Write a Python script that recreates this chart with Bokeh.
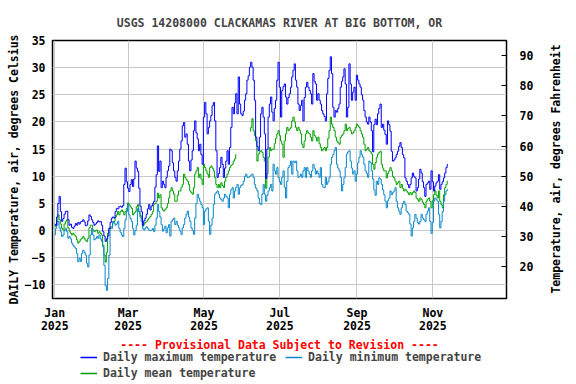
import math
from datetime import date
from bokeh.plotting import figure
from bokeh.layouts import column, row
from bokeh.models import (Range1d, LinearAxis, FixedTicker, Legend, LegendItem, Title)
from bokeh.embed import file_html
from bokeh.resources import INLINE

# ---------------- data ----------------
title_text = "USGS 14208000 CLACKAMAS RIVER AT BIG BOTTOM, OR"
start_date = date(2025, 1, 1)

tmax = [
    1.2, 1.0, 2.5, 5.0, 6.3, 3.5, 1.7, 2.2, 3.0, 3.5,
    3.6, 2.0, 1.0, 1.2, 0.6, 0.4, 0.8, 1.3, 1.0, 1.5,
    1.2, 1.6, 1.7, 2.0, 1.6, 0.9, 1.0, 1.8, 2.9, 2.6,
    2.0, 1.5, 1.0, 1.2, 1.5, 1.8, 1.6, 1.7, 1.0, -0.2,
    -1.0, -2.0, -1.5, -1.0, 0.4, 1.5, 2.3, 2.5, 2.3, 3.5,
    4.1, 4.0, 4.4, 4.5, 4.3, 4.6, 8.5, 11.5, 9.0, 7.8,
    7.2, 8.5, 9.4, 8.1, 9.5, 12.8, 11.5, 10.9, 7.8, 4.5,
    3.5, 1.0, 1.8, 2.3, 3.0, 4.0, 4.8, 3.8, 4.5, 5.0,
    5.4, 8.0, 10.3, 15.6, 10.9, 12.8, 7.9, 9.1, 8.5, 7.9,
    9.8, 11.0, 11.9, 15.0, 14.7, 12.5, 11.0, 9.8, 9.1, 11.0,
    12.8, 15.0, 16.5, 19.3, 19.9, 17.2, 17.8, 15.9, 12.8, 11.0,
    13.0, 14.7, 18.4, 20.2, 18.0, 16.9, 14.7, 15.9, 14.0, 12.2,
    20.9, 23.6, 21.5, 17.8, 19.0, 20.2, 21.2, 23.0, 23.6, 20.2,
    14.7, 9.8, 10.5, 11.6, 13.5, 12.2, 9.8, 11.5, 12.8, 14.7,
    12.2, 15.3, 19.0, 22.7, 21.5, 23.5, 25.2, 21.5, 28.3, 23.3,
    21.5, 21.2, 22.0, 24.0, 25.2, 27.7, 28.5, 30.1, 31.0, 30.1,
    27.7, 24.0, 17.2, 15.5, 14.7, 17.2, 21.5, 22.7, 20.9, 17.8,
    9.6, 15.0, 20.9, 23.3, 24.6, 21.8, 20.2, 22.5, 24.0, 27.7,
    31.0, 26.4, 20.9, 25.8, 26.5, 27.0, 24.6, 23.3, 24.5, 25.2,
    26.4, 28.3, 29.5, 30.7, 27.7, 26.4, 23.3, 22.1, 23.0, 24.0,
    20.2, 24.5, 26.4, 27.3, 26.4, 25.8, 25.2, 23.3, 28.9, 27.5,
    27.0, 24.0, 25.2, 24.0, 23.3, 22.1, 21.5, 21.0, 20.2, 25.2,
    28.0, 29.5, 32.0, 28.9, 22.7, 20.9, 22.1, 21.8, 22.5, 23.3,
    26.4, 27.5, 28.3, 29.8, 27.0, 20.9, 22.7, 30.7, 27.0, 24.0,
    25.5, 26.4, 24.0, 28.6, 27.7, 27.0, 26.4, 25.0, 24.0, 22.1,
    20.9, 20.0, 19.6, 20.9, 20.0, 18.4, 14.5, 19.5, 20.5, 19.5,
    21.5, 22.5, 23.3, 19.0, 19.6, 18.5, 17.7, 15.9, 20.2, 19.5,
    18.3, 14.6, 12.8, 13.0, 13.4, 14.0, 14.6, 15.5, 16.2, 15.3,
    14.0, 13.4, 9.7, 9.1, 8.5, 7.9, 8.5, 9.7, 10.6, 10.0,
    9.7, 7.3, 7.9, 9.5, 11.3, 10.6, 9.0, 7.9, 6.3, 8.5,
    8.8, 9.1, 7.6, 11.0, 9.0, 7.3, 8.2, 8.8, 9.1, 10.3,
    7.6, 8.5, 9.0, 9.7, 10.6, 11.6, 12.2,
]

tmean = [
    0.7, 1.0, 1.7, 2.9, 2.0, 1.2, 0.4, 0.1, 1.2, 1.7,
    2.0, 0.5, -0.1, -0.5, -0.8, -0.5, -0.8, -1.1, -1.7, -2.3,
    -2.0, -1.6, -1.4, -1.1, -1.5, -1.8, -2.0, -1.4, 0.5, 1.0,
    1.0, 0.1, -0.2, 0.0, 0.1, -0.5, -0.2, -0.5, -0.8, -2.7,
    -4.5, -5.8, -4.0, -0.5, 0.4, 0.6, 0.7, 1.4, 1.7, 2.5,
    2.9, 3.5, 2.9, 3.5, 3.8, 3.5, 2.9, 3.5, 4.1, 5.1,
    4.8, 4.4, 4.1, 2.9, 3.2, 3.5, 4.4, 4.8, 3.5, 2.8,
    2.3, 0.8, 1.2, 1.5, 1.7, 2.0, 2.3, 2.6, 3.0, 3.5,
    4.8, 5.0, 5.4, 6.9, 6.0, 6.6, 4.2, 3.8, 3.6, 3.9,
    4.2, 5.0, 6.0, 7.3, 7.9, 7.3, 6.7, 5.4, 5.4, 6.5,
    7.3, 7.3, 8.0, 8.5, 10.4, 9.8, 9.4, 9.1, 8.5, 7.3,
    7.0, 6.7, 7.9, 10.4, 11.0, 11.6, 9.8, 10.4, 9.5, 8.5,
    12.2, 11.6, 11.0, 10.4, 9.8, 11.6, 11.9, 11.5, 11.0, 9.8,
    8.5, 7.9, 8.5, 7.9, 8.8, 8.3, 7.9, 9.1, 9.8, 10.4,
    11.0, 11.6, 12.0, 12.2, 12.8, 13.2, 14.0, None, None, None,
    None, None, None, None, None, None, None, 18.3, 19.0, 20.6,
    18.4, 17.5, 16.5, 12.8, 14.1, 14.5, 14.7, 14.4, 13.5, 12.8,
    7.8, 10.5, 13.5, 15.3, 14.7, 15.0, 15.0, 16.0, 17.0, 17.8,
    18.4, 17.5, 16.5, 15.9, 13.5, 16.5, 17.8, 19.0, 18.4, 18.7,
    19.0, 20.2, 20.9, 20.0, 19.0, 18.4, 19.0, 18.5, 17.8, 15.9,
    15.3, 16.5, 17.8, 18.4, 18.0, 17.8, 17.2, 16.5, 18.4, 17.5,
    17.2, 16.5, 17.2, 16.0, 15.3, 14.7, 15.0, 15.3, 14.7, 15.3,
    17.0, 18.4, 20.9, 19.6, 19.0, 18.4, 17.2, 16.5, 16.2, 15.9,
    17.2, 17.5, 17.8, 18.4, 19.6, 18.4, 18.8, 19.0, 18.4, 17.8,
    18.0, 18.4, 19.0, 19.6, 19.3, 19.0, 18.4, 17.8, 17.2, 15.9,
    14.7, 15.0, 15.3, 14.7, 14.5, 14.1, 12.2, 11.3, 12.5, 13.5,
    14.1, 14.4, 14.6, 12.2, 11.5, 11.0, 11.0, 9.7, 10.5, 11.0,
    11.6, 11.0, 10.0, 9.7, 9.1, 8.5, 8.8, 9.1, 7.9, 8.5,
    7.8, 7.3, 7.6, 7.3, 7.0, 6.6, 7.0, 6.6, 7.0, 7.3,
    7.0, 6.0, 5.7, 5.4, 6.0, 5.7, 5.2, 4.8, 4.2, 5.4,
    5.8, 6.0, 5.4, 4.2, 5.5, 6.6, 7.3, 6.5, 6.0, 7.3,
    5.4, 4.8, 4.2, 6.6, 7.9, 8.5, 9.1,
]

tmin = [
    -0.8, 0.4, 1.0, 1.7, 0.5, -0.2, -1.1, -0.8, 0.0, 0.4,
    -0.2, -1.4, -1.1, -1.5, -2.3, -2.7, -3.0, -3.3, -4.2, -5.7,
    -5.1, -5.7, -4.2, -3.6, -4.0, -4.5, -6.0, -6.7, -4.5, -0.8,
    0.4, -0.8, -1.7, -1.5, -1.1, -1.4, -0.8, -1.5, -2.0, -3.0,
    -6.4, -10.1, -11.0, -8.8, -4.5, 0.4, 0.4, 1.7, 1.4, 1.0,
    1.2, 1.7, 0.4, -0.3, -0.8, -1.1, 0.4, 2.0, 3.5, 4.8,
    2.9, 2.2, 1.7, 0.4, -0.8, 0.0, 1.0, 4.1, 3.5, 2.5,
    1.7, 0.4, 0.1, 0.5, 0.7, 0.4, 0.1, 0.0, 0.1, 0.4,
    -0.2, 1.0, 2.3, 4.8, 3.5, 2.5, 1.1, -0.1, 0.3, 0.8,
    -0.4, 0.5, 1.1, -1.0, 1.7, 2.0, 2.3, 1.1, 1.7, 1.0,
    0.5, -0.1, -0.7, 0.5, 1.1, 2.3, 3.0, 3.6, 2.5, 1.7,
    0.5, 0.0, -0.7, 2.3, 5.0, 6.7, 6.0, 5.4, 4.8, 4.2,
    1.1, 3.6, 4.0, 4.2, 1.7, -0.7, 1.0, 2.3, 4.8, 6.7,
    7.0, 7.3, 6.7, 6.0, 5.7, 5.4, 6.0, 6.7, 6.3, 6.0,
    4.2, 6.7, 7.5, 7.9, 6.0, 7.3, 8.0, 8.5, 6.7, 7.9,
    8.3, 8.5, 9.1, 10.0, 10.4, 9.8, 9.8, 10.0, 10.2, 10.4,
    9.8, 8.5, 7.8, 7.3, 6.0, 5.0, 4.8, 6.7, 8.5, 6.7,
    5.4, 6.5, 7.3, 7.9, 8.5, 7.3, 12.2, 11.0, 10.4, 11.6,
    9.8, 9.0, 8.5, 9.8, 11.0, 8.0, 6.0, 9.1, 11.6, 12.0,
    12.8, 10.4, 12.8, 12.5, 12.8, 11.0, 9.8, 10.0, 10.4, 9.8,
    11.0, 11.6, 9.8, 11.6, 11.0, 10.4, 9.8, 11.0, 12.2, 11.5,
    10.4, 11.0, 10.5, 9.8, 11.6, 8.5, 8.0, 7.9, 9.8, 8.5,
    9.0, 9.8, 12.2, 13.5, 14.0, 14.7, 15.3, 12.2, 11.5, 11.0,
    9.8, 7.3, 8.5, 9.8, 11.6, 14.1, 14.5, 14.7, 12.8, 11.5,
    10.4, 11.0, 9.1, 10.4, 12.5, 13.5, 14.7, 14.0, 13.5, 12.2,
    11.0, 10.5, 9.8, 12.8, 12.5, 11.0, 9.5, 7.5, 6.5, 9.1,
    8.5, 9.7, 9.5, 8.5, 7.5, 6.6, 5.4, 4.2, 5.5, 6.0,
    7.3, 6.6, 7.0, 7.3, 7.9, 5.4, 4.2, 3.6, 3.0, 4.2,
    5.0, 5.4, 4.8, 3.6, 3.3, 3.0, 1.2, -1.0, 0.5, 1.7,
    3.0, 2.3, 1.5, 1.2, 1.7, 3.0, 2.3, 2.0, 1.7, 3.0,
    3.6, 4.2, 1.7, -0.5, 1.5, 5.4, 6.0, 5.7, 5.4, 3.0,
    0.5, 1.7, 3.5, 5.4, 6.6, 7.3, 7.6,
]

tick_months = [date(2025, m, 1) for m in (1, 3, 5, 7, 9, 11)]
tick_labels = ["Jan\n2025", "Mar\n2025", "May\n2025", "Jul\n2025", "Sep\n2025", "Nov\n2025"]
c_ticks = [-10, -5, 0, 5, 10, 15, 20, 25, 30, 35]
f_ticks = [20, 30, 40, 50, 60, 70, 80, 90]

label_left = "DAILY Temperature, air, degrees Celsius"
label_right = "Temperature, air, degrees Fahrenheit"
label_max = "Daily maximum temperature"
label_min = "Daily minimum temperature"
label_mean = "Daily mean temperature"
provisional = "---- Provisional Data Subject to Revision ----"

# ---------------- styling ----------------
FONT = "DejaVu Sans Mono"
FSIZE = "11.5px"
C_MAX = "#0000ff"
C_MIN = "#0a88cc"
C_MEAN = "#00a000"
GRID = "#c8c8c8"

days = list(range(len(tmax)))
tick_days = [(d - start_date).days for d in tick_months]

W_MAIN, W_RIGHT = 545, 31
H_MAIN, H_LEG = 351, 33
H_ALL = H_MAIN + H_LEG

c_lo, c_hi = -12.5, 35.0
p = figure(width=W_MAIN, height=H_MAIN, output_backend="svg", toolbar_location=None,
           x_range=Range1d(-1.8, 363.2), y_range=Range1d(c_lo, c_hi),
           min_border_left=52, min_border_right=39, min_border_top=40, min_border_bottom=50)
p.background_fill_color = "white"
p.border_fill_color = "white"
p.outline_line_color = "black"
p.outline_line_width = 1.5

p.title.text = title_text
p.title.align = "center"
p.title.text_font = FONT
p.title.text_font_size = FSIZE
p.title.text_font_style = "bold"
p.title.standoff = 21

p.extra_y_ranges = {"F": Range1d(c_lo * 9 / 5 + 32, c_hi * 9 / 5 + 32)}

xa = p.xaxis[0]
xa.ticker = FixedTicker(ticks=tick_days)
xa.major_label_overrides = {d: lab for d, lab in zip(tick_days, tick_labels)}
xa.major_label_text_line_height = 0.95

ya = p.yaxis[0]
ya.ticker = FixedTicker(ticks=c_ticks)
ya.axis_label = label_left
ya.axis_label_standoff = 1
ya.major_label_standoff = 7

ra = LinearAxis(y_range_name="F", ticker=FixedTicker(ticks=f_ticks))
p.add_layout(ra, "right")
ra.major_tick_in = 5
ra.major_tick_out = 0
ra.major_tick_line_color = "black"
ra.major_label_standoff = 13

for ax in (xa, ya):
    ax.major_tick_in = 0
    ax.major_tick_out = 0
xa.major_label_standoff = 7
for ax in (xa, ya, ra):
    ax.axis_line_color = None
    ax.minor_tick_line_color = None
    ax.major_label_text_font = FONT
    ax.major_label_text_font_size = FSIZE
    ax.major_label_text_font_style = "bold"
    ax.major_label_text_color = "black"
    ax.axis_label_text_font = FONT
    ax.axis_label_text_font_size = FSIZE
    ax.axis_label_text_font_style = "bold"
    ax.axis_label_text_color = "black"

p.xgrid.ticker = FixedTicker(ticks=tick_days)
p.ygrid.ticker = FixedTicker(ticks=c_ticks)
for g in (p.xgrid[0], p.ygrid[0]):
    g.grid_line_color = GRID
    g.grid_line_width = 1

# ---------------- series ----------------
mean_segments = []
seg_x, seg_y = [], []
for d, v in zip(days, tmean):
    if v is None:
        if seg_x:
            mean_segments.append((seg_x, seg_y))
        seg_x, seg_y = [], []
    else:
        seg_x.append(d)
        seg_y.append(v)
if seg_x:
    mean_segments.append((seg_x, seg_y))

for sx, sy in mean_segments:
    p.step(sx, sy, mode="center", line_color=C_MEAN, line_width=1)
p.step(days, tmin, mode="center", line_color=C_MIN, line_width=1)
p.step(days, tmax, mode="center", line_color=C_MAX, line_width=1)

foot = Title(text=provisional, align="center", text_color="#ff0000", text_font=FONT,
             text_font_size=FSIZE, text_font_style="bold", standoff=0)
p.add_layout(foot, "below")

# ---------------- legend strip (below) ----------------
q = figure(width=W_MAIN, height=H_LEG, output_backend="svg", toolbar_location=None,
           x_axis_type=None, y_axis_type=None,
           x_range=Range1d(1000, 1001), y_range=Range1d(1000, 1001),
           min_border_left=0, min_border_right=0, min_border_top=0, min_border_bottom=0)
q.grid.visible = False
q.outline_line_color = None
q.background_fill_color = "white"
q.border_fill_color = "white"
k_max = q.step(days, tmax, mode="center", line_color=C_MAX, line_width=1.5)
k_min = q.step(days, tmin, mode="center", line_color=C_MIN, line_width=1.5)
k_mean = q.step(mean_segments[0][0], mean_segments[0][1], mode="center", line_color=C_MEAN, line_width=1.5)


def make_legend(items, loc):
    lg = Legend(items=items, location=loc, orientation="horizontal")
    lg.label_text_font = FONT
    lg.label_text_font_size = FSIZE
    lg.label_text_font_style = "bold"
    lg.border_line_color = None
    lg.background_fill_alpha = 0
    lg.glyph_width = 17
    lg.glyph_height = 12
    lg.label_height = 12
    lg.label_standoff = 6
    lg.spacing = 9
    lg.padding = 0
    lg.margin = 0
    return lg


q.add_layout(make_legend([LegendItem(label=label_max, renderers=[k_max]),
                          LegendItem(label=label_min, renderers=[k_min])], (28, 20)), "center")
q.add_layout(make_legend([LegendItem(label=label_mean, renderers=[k_mean])], (28, 4)), "center")

# ---------------- right axis title strip ----------------
r = figure(width=W_RIGHT, height=H_ALL, output_backend="svg", toolbar_location=None,
           x_axis_type=None, x_range=Range1d(0, 1), y_range=Range1d(0, 1),
           min_border_left=0, min_border_right=0, min_border_top=40,
           min_border_bottom=H_ALL - 297)
r.grid.visible = False
r.outline_line_color = None
r.background_fill_color = "white"
r.border_fill_color = "white"
rax = r.yaxis[0]
rax.ticker = FixedTicker(ticks=[])
rax.axis_label = label_right
rax.axis_label_standoff = 0
rax.major_label_standoff = 0
rax.axis_line_color = None
rax.major_tick_line_color = None
rax.minor_tick_line_color = None
rax.axis_label_text_font = FONT
rax.axis_label_text_font_size = FSIZE
rax.axis_label_text_font_style = "bold"
rax.axis_label_text_color = "black"

layout = row(column(p, q, spacing=0), r, spacing=0)
open("out.html", "w").write(file_html(layout, INLINE))
